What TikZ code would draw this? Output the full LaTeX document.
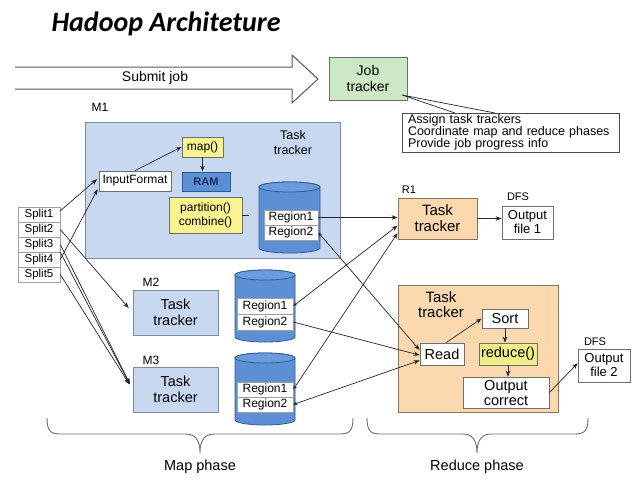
\documentclass[tikz,border=0pt]{standalone}
\usepackage{fontspec}
\setmainfont{Liberation Sans}
\newfontfamily\titlefont{Carlito}
\usetikzlibrary{arrows.meta}
\definecolor{boxline}{HTML}{6E6E6E}
\definecolor{lineblk}{HTML}{262626}
\definecolor{mfill}{HTML}{C8D8F0}
\definecolor{mline}{HTML}{7D8CA3}
\definecolor{cylfill}{HTML}{5C8FD3}
\definecolor{cyltop}{HTML}{6A9BDB}
\definecolor{cylline}{HTML}{2F5C96}
\definecolor{ramtext}{HTML}{1C2F5C}
\definecolor{yel}{HTML}{FBF38F}
\definecolor{yel2}{HTML}{F0EE86}
\definecolor{orng}{HTML}{FBD8AD}
\definecolor{oline}{HTML}{857565}
\definecolor{grn}{HTML}{CDE8C5}
\newcommand\fs[2]{\fontsize{#1}{#2}\selectfont}
\newcommand\mycyl[4]{% #1 centre x, #2 x radius, #3 top, #4 bottom
  \pgfmathsetmacro\cyA{#3+5}\pgfmathsetmacro\cyB{#4-5}
  \path[fill=cylfill, draw=cylline, line width=0.8pt]
    (#1-#2,\cyA) -- (#1-#2,\cyB)
    arc[start angle=180, end angle=0, x radius=#2, y radius=5]
    -- (#1+#2,\cyA)
    arc[start angle=0, end angle=-180, x radius=#2, y radius=5] -- cycle;
  \draw[fill=cyltop, draw=cylline, line width=0.8pt] (#1,\cyA) ellipse[x radius=#2, y radius=5];}
\tikzset{
  bx/.style={draw=boxline, line width=0.8pt, inner sep=0pt, align=center},
  lbl/.style={inner sep=0pt, align=center},
  regbox/.style={bx, fill=white, draw=gray!75, line width=0.6pt, font=\fs{12}{13}},
  splitbox/.style={bx, fill=white, draw=gray!75, line width=0.6pt, minimum width=42pt, minimum height=15pt, font=\fs{11.5}{12}},
  conn/.style={draw=lineblk, line width=0.7pt, -{Stealth[length=6pt,width=4.5pt]}},
  dbl/.style={draw=lineblk, line width=0.7pt, {Stealth[length=4pt,width=3.5pt]}-{Stealth[length=6pt,width=4.5pt]}},
  plain/.style={draw=lineblk, line width=0.7pt},
  brace/.style={draw=boxline, line width=0.9pt},
}
\begin{document}
\begin{tikzpicture}[x=1pt,y=-1pt]
\useasboundingbox (0,0) rectangle (634,480);
\fill[white] (0,0) rectangle (634,480);

% title
\node[font=\titlefont\bfseries\itshape\fs{28}{30}, anchor=base, inner sep=0pt] (title) at (166,31) {Hadoop Architeture};

% submit job arrow
\draw[draw=gray!70!black, line width=1pt, line join=miter] (15,67) -- (292,67) -- (292,55) -- (318,79) -- (292,103) -- (292,89) -- (15,89);
\node[lbl, font=\fs{14}{16}] (submit) at (155,78) {Submit job};

% job tracker
\node[bx, fill=grn, minimum width=78pt, minimum height=43pt, font=\fs{14}{16}] (job) at (368,78.5) {Job\\tracker};
\node[bx, fill=white, draw=gray!60!black, minimum width=217pt, minimum height=39pt, text width=205pt, align=left, inner xsep=6pt, font=\fs{12.5}{12}] (info) at (510.5,132.5) {Assign task trackers\\Coordinate map and reduce phases\\Provide job progress info};
\coordinate (apex) at (402,95);
\coordinate (w1) at (455,113);
\coordinate (w2) at (495,113);
\draw[plain] (w1) -- (apex) -- (w2);

% M1
\node[lbl, font=\fs{12}{13}] (m1lab) at (100,107) {M1};
\node[bx, fill=mfill, draw=mline, minimum width=255pt, minimum height=136pt] (m1) at (212.5,190) {};
\node[lbl, font=\fs{12.5}{15}] (tt1) at (293,143) {Task\\tracker};
\node[bx, fill=yel, minimum width=41pt, minimum height=20pt, font=\fs{12}{13}] (map) at (202.5,147) {map()};
\node[bx, fill=cylfill, draw=cylline, minimum width=48pt, minimum height=19pt, font=\bfseries\fs{11}{12}, text=ramtext] (ram) at (206,181.5) {RAM};
\node[bx, fill=white, minimum width=72pt, minimum height=20pt, font=\fs{12}{13}] (ifmt) at (135,181) {InputFormat};
\node[bx, fill=yel, minimum width=73pt, minimum height=36pt, font=\fs{12}{14}] (part) at (205.5,215) {partition()\\combine()};
\mycyl{289.5}{30.5}{182}{253}
\node[regbox, minimum width=54pt, minimum height=15pt] (r11) at (291,217.5) {Region1};
\node[regbox, minimum width=54pt, minimum height=15pt] (r12) at (291,232.5) {Region2};

% splits
\node[splitbox] (s1) at (39,214.5) {Split1};
\node[splitbox] (s2) at (39,229.5) {Split2};
\node[splitbox] (s3) at (39,244.5) {Split3};
\node[splitbox] (s4) at (39,259.5) {Split4};
\node[splitbox] (s5) at (39,274.5) {Split5};

% M2, M3
\node[lbl, font=\fs{12}{13}] (m2lab) at (151,282) {M2};
\node[bx, fill=mfill, draw=mline, minimum width=85pt, minimum height=45pt, font=\fs{14.5}{16}] (m2) at (175.5,312.5) {Task\\tracker};
\mycyl{265}{30}{270}{342}
\node[regbox, minimum width=56pt, minimum height=16pt] (r21) at (265,306) {Region1};
\node[regbox, minimum width=56pt, minimum height=16pt] (r22) at (265,322) {Region2};

\node[lbl, font=\fs{12}{13}] (m3lab) at (151,360) {M3};
\node[bx, fill=mfill, draw=mline, minimum width=85pt, minimum height=45pt, font=\fs{14.5}{16}] (m3) at (175.5,389.5) {Task\\tracker};
\mycyl{265}{30}{353}{425}
\node[regbox, minimum width=56pt, minimum height=15pt] (r31) at (265,389.5) {Region1};
\node[regbox, minimum width=56pt, minimum height=15pt] (r32) at (265,404.5) {Region2};

% R1
\node[lbl, font=\fs{11}{12}] (r1lab) at (409,190) {R1};
\node[bx, fill=orng, draw=oline, minimum width=79pt, minimum height=41pt, font=\fs{15}{16}] (r1) at (437.5,218.5) {Task\\tracker};
\node[lbl, font=\fs{11}{12}] (dfs1) at (518,197) {DFS};
\node[bx, fill=white, minimum width=51pt, minimum height=33pt, font=\fs{13}{14}] (out1) at (527.5,222.5) {Output\\file 1};

% reduce task tracker
\node[bx, fill=orng, draw=oline, minimum width=160pt, minimum height=127pt] (red) at (478,348.5) {};
\node[lbl, font=\fs{15}{15}] (tt2) at (441,305) {Task\\tracker};
\node[bx, fill=white, minimum width=44pt, minimum height=22pt, font=\fs{14.5}{15}] (read) at (442,354) {Read};
\node[bx, fill=white, minimum width=46pt, minimum height=19pt, font=\fs{14.5}{15}] (sort) at (505,318.5) {Sort};
\node[bx, fill=yel2, minimum width=58pt, minimum height=22pt, font=\fs{14.5}{15}] (redfn) at (508,354) {reduce()};
\node[bx, fill=white, minimum width=86pt, minimum height=31pt, font=\fs{14.5}{15}] (outc) at (506,392.5) {Output\\correct};
\node[lbl, font=\fs{11}{12}] (dfs2) at (595,342) {DFS};
\node[bx, fill=white, minimum width=52pt, minimum height=33pt, font=\fs{13}{14}] (out2) at (604,365.5) {Output\\file 2};

% connectors inside M1
\draw[conn] (ifmt.north) -- (map.west);
\draw[conn] (map.south) -- (map.south |- ram.north);
\draw[plain] (part.east) -- ++(7,0);

% splits to mappers
\draw[conn, shorten >=2pt] (s1.10) -- (ifmt.175);
\draw[conn, shorten >=2pt] (s4.east) -- (ifmt.190);
\draw[conn, shorten >=6pt] (s2.east) -- (m2.west);
\draw[conn, shorten >=6pt] (s3.east) -- (m3.west);
\draw[conn, shorten >=6pt] (s3.south east) -- (m3.west);
\draw[conn, shorten >=6pt] (s5.east) -- (m3.west);

% regions to reducers
\draw[conn] (r11.east) -- (r11.east -| r1.west);
\draw[dbl] (r21.east) -- (r1.190);
\draw[dbl] (r31.east) -- (r1.200);
\draw[dbl] (r12.east) -- (read.170);
\draw[conn] (r22.east) -- (read.183);
\draw[dbl] (r32.east) -- (read.196);

% reducer side
\draw[conn] (r1.east) -- (r1.east -| out1.west);
\draw[conn] (read.70) -- (sort.west);
\draw[conn] (sort.south) -- (sort.south |- redfn.north);
\draw[conn] (redfn.south) -- (redfn.south |- outc.north);
\draw[conn] (outc.east) -- (out2.175);

% braces
\draw[brace] (47,418) .. controls (47,430) and (50,434) .. (60,434) -- (186,434)
  .. controls (195,434) and (200,440) .. (200,453)
  .. controls (200,440) and (205,434) .. (214,434) -- (340,434)
  .. controls (350,434) and (353,430) .. (353,418);
\node[lbl, font=\fs{14.5}{15}] (mapph) at (200,467) {Map phase};
\draw[brace] (367,418) .. controls (367,430) and (370,434) .. (380,434) -- (463,434)
  .. controls (472,434) and (477,440) .. (477,453)
  .. controls (477,440) and (482,434) .. (491,434) -- (575,434)
  .. controls (585,434) and (588,430) .. (588,418);
\node[lbl, font=\fs{14.5}{15}] (redph) at (477,467) {Reduce phase};
\end{tikzpicture}
\end{document}
